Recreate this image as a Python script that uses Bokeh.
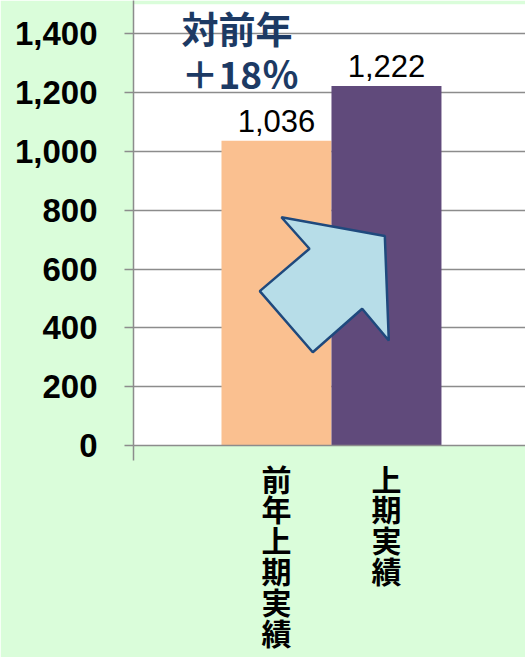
from bokeh.plotting import figure
from bokeh.models import (Range1d, FixedTicker, NumeralTickFormatter,
                          ColumnDataSource, PolyAnnotation, Label, BoxAnnotation)
from bokeh.embed import file_html
from bokeh.resources import INLINE
from bokeh.core.properties import value

# ---- data ----
categories = ["前年上期実績", "上期実績"]
values = [1036, 1222]
bar_colors = ["#FAC090", "#604A7B"]
y_ticks = [0, 200, 400, 600, 800, 1000, 1200, 1400]
callout_lines = ["対前年", "＋18％"]
# decorative arrow outline (data units)
arrow_x = [0.545, 1.485, 1.521, 1.279, 0.830, 0.348, 0.800]
arrow_y = [776, 712, 357, 465, 317, 525, 669]

x_pos = [i + 0.5 for i in range(len(categories))]
src = ColumnDataSource(dict(x=x_pos, top=values, color=bar_colors,
                            lbl=[f"{v:,}" for v in values]))

GRAY = "#8C8C8C"
BG = "#DAFDDA"

p = figure(width=525, height=657, output_backend="svg", toolbar_location=None,
           x_range=Range1d(-0.8, 2.764), y_range=Range1d(0, 1513),
           min_border_left=133, min_border_right=0, min_border_top=0,
           min_border_bottom=212)
p.background_fill_color = "white"
p.border_fill_color = BG
p.outline_line_color = None

# thin green strip above the plot area
p.add_layout(BoxAnnotation(bottom=1500, fill_color=BG, fill_alpha=1.0,
                           line_color=None, level="underlay"))

p.vbar(x="x", top="top", width=1.0, fill_color="color", line_color=None, source=src)

p.text(x="x", y="top", text="lbl", source=src, text_align="center",
       text_baseline="alphabetic", y_offset=-20,
       text_font=value("Liberation Sans"), text_font_size="31px", text_color="black")

# y axis
p.yaxis.ticker = FixedTicker(ticks=y_ticks, minor_ticks=[])
p.yaxis.formatter = NumeralTickFormatter(format="0,0")
p.yaxis.major_label_text_font = "Liberation Sans"
p.yaxis.major_label_text_font_style = "bold"
p.yaxis.major_label_text_font_size = "33px"
p.yaxis.major_label_text_color = "black"
p.yaxis.major_label_standoff = 27
p.yaxis.axis_line_color = GRAY
p.yaxis.axis_line_width = 1.5
p.yaxis.major_tick_line_color = GRAY
p.yaxis.major_tick_line_width = 1.5
p.yaxis.major_tick_in = 0
p.yaxis.major_tick_out = 9
p.yaxis.minor_tick_line_color = None

p.ygrid.grid_line_color = GRAY
p.ygrid.grid_line_width = 1.5
p.xgrid.visible = False

# x axis with vertical (stacked) category labels
p.xaxis.ticker = FixedTicker(ticks=x_pos, minor_ticks=[-0.8])
p.xaxis.major_label_overrides = {x: "\n".join(c) for x, c in zip(x_pos, categories)}
p.xaxis.major_label_text_font = "Noto Sans CJK JP"
p.xaxis.major_label_text_font_style = "bold"
p.xaxis.major_label_text_font_size = "30px"
p.xaxis.major_label_text_line_height = 0.7
p.xaxis.major_label_text_color = "black"
p.xaxis.major_label_standoff = -5
p.xaxis.axis_line_color = GRAY
p.xaxis.axis_line_width = 1.5
p.xaxis.major_tick_line_color = None
p.xaxis.major_tick_in = 0
p.xaxis.major_tick_out = 0
p.xaxis.minor_tick_line_color = GRAY
p.xaxis.minor_tick_line_width = 1.5
p.xaxis.minor_tick_in = 0
p.xaxis.minor_tick_out = 15

p.add_layout(PolyAnnotation(xs=arrow_x, ys=arrow_y, fill_color="#B7DDE8",
                            fill_alpha=1.0, line_color="#1F497D", line_alpha=1.0,
                            line_width=2.5))

for txt, yy in zip(callout_lines, [1512, 1360]):
    p.add_layout(Label(x=-0.364, y=yy, text=txt, text_align="left",
                       text_baseline="top", text_font="Noto Sans CJK JP",
                       text_font_style="bold", text_font_size="37px",
                       text_color="#1C3A64"))

open("out.html", "w").write(file_html(p, INLINE))
